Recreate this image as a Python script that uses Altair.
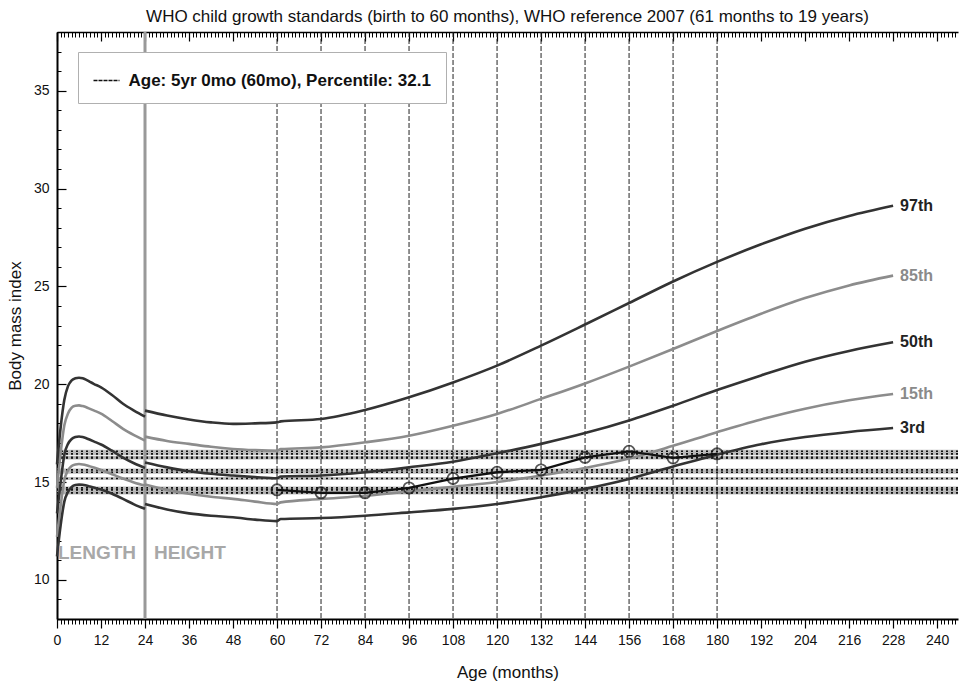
import altair as alt
import pandas as pd

FONT = "Liberation Sans"
TITLE = "WHO child growth standards (birth to 60 months), WHO reference 2007 (61 months to 19 years)"

# ---- WHO standards, length based (0-24 months) ----
months_len = [0, 1, 2, 3, 4, 5, 6, 7, 8, 9, 10, 12, 15, 18, 21, 24]
p97_len = [15.9, 17.8, 19.2, 19.9, 20.2, 20.3, 20.33, 20.3, 20.22, 20.12, 20.02, 19.84, 19.45, 19.0, 18.65, 18.34]
p85_len = [14.7, 16.5, 17.9, 18.5, 18.8, 18.9, 18.92, 18.88, 18.82, 18.74, 18.66, 18.5, 18.12, 17.72, 17.4, 17.12]
p50_len = [13.4, 15.0, 16.4, 16.95, 17.2, 17.3, 17.33, 17.3, 17.24, 17.16, 17.08, 16.92, 16.6, 16.25, 15.96, 15.72]
p15_len = [12.2, 13.8, 15.1, 15.6, 15.82, 15.9, 15.92, 15.9, 15.86, 15.8, 15.74, 15.62, 15.4, 15.18, 14.98, 14.82]
p3_len = [11.2, 12.8, 14.0, 14.5, 14.75, 14.85, 14.87, 14.86, 14.82, 14.77, 14.72, 14.62, 14.4, 14.14, 13.86, 13.63]

# ---- height based (24-60 months) + WHO reference 2007 (61-228 months) ----
months_ht = [24, 30, 36, 42, 48, 54, 60, 61, 72, 84, 96, 108, 120, 132, 144, 156, 168, 180, 192, 204, 216, 228]
p97_ht = [18.65, 18.4, 18.2, 18.05, 17.97, 18.0, 18.05, 18.1, 18.22, 18.68, 19.33, 20.09, 20.95, 21.97, 23.05, 24.15, 25.25, 26.25, 27.15, 27.95, 28.6, 29.12]
p85_ht = [17.32, 17.1, 16.95, 16.8, 16.69, 16.63, 16.6, 16.68, 16.77, 17.03, 17.37, 17.88, 18.48, 19.25, 20.04, 20.9, 21.8, 22.72, 23.6, 24.4, 25.05, 25.55]
p50_ht = [16.0, 15.75, 15.55, 15.42, 15.33, 15.25, 15.19, 15.28, 15.33, 15.5, 15.75, 16.04, 16.47, 16.95, 17.5, 18.15, 18.9, 19.7, 20.45, 21.15, 21.7, 22.14]
p15_ht = [14.87, 14.6, 14.4, 14.25, 14.14, 14.0, 13.88, 13.96, 14.13, 14.3, 14.52, 14.76, 15.0, 15.33, 15.72, 16.2, 16.85, 17.55, 18.2, 18.75, 19.18, 19.5]
p3_ht = [13.88, 13.6, 13.4, 13.28, 13.2, 13.08, 13.0, 13.11, 13.16, 13.28, 13.45, 13.63, 13.88, 14.22, 14.65, 15.16, 15.79, 16.4, 16.93, 17.3, 17.56, 17.76]

pct_names = ["97th", "85th", "50th", "15th", "3rd"]
pct_tone = ["dark", "gray", "dark", "gray", "dark"]
len_series = [p97_len, p85_len, p50_len, p15_len, p3_len]
ht_series = [p97_ht, p85_ht, p50_ht, p15_ht, p3_ht]

# ---- patient measurements ----
ages = [60, 72, 84, 96, 108, 120, 132, 144, 156, 168, 180]
bmi = [14.6, 14.45, 14.45, 14.7, 15.18, 15.5, 15.62, 16.26, 16.57, 16.23, 16.44]
legend_text = "Age: 5yr 0mo (60mo), Percentile: 32.1"

# tick values
x_major = list(range(0, 241, 12))
x_minor = list(range(0, 246))
y_major = [10, 15, 20, 25, 30, 35]
y_minor = list(range(8, 39))

rows = []
for name, tone, a, b in zip(pct_names, pct_tone, len_series, ht_series):
    for m, v in zip(months_len, a):
        rows.append(dict(pct=name, tone=tone, key=name + "_len", month=m, bmi=v))
    for m, v in zip(months_ht, b):
        rows.append(dict(pct=name, tone=tone, key=name + "_ht", month=m, bmi=v))
curves = pd.DataFrame(rows)
ends = pd.DataFrame([dict(pct=n, tone=t, month=months_ht[-1], bmi=s[-1])
                     for n, t, s in zip(pct_names, pct_tone, ht_series)])
pts = pd.DataFrame(dict(month=ages, bmi=bmi, legend=[legend_text] * len(ages)))
divider = pd.DataFrame(dict(month=[24], bmi=[11.35]))

xs = alt.Scale(domain=[0, 245.7], nice=False, zero=False)
ys = alt.Scale(domain=[8, 38], nice=False, zero=False)

common = dict(grid=False, title=None, tickColor="black", labelFont=FONT)

ax_bottom_major = alt.Axis(orient="bottom", values=x_major, tickSize=9, tickWidth=1.2, tickColor="black",
                           domain=True, domainColor="black", domainWidth=2, labelFontSize=14, labelFont=FONT,
                           labelColor="#111", labelPadding=5, labelFlush=False, labelOverlap=False,
                           title="Age (months)", titleFont=FONT, titleFontSize=17, titleFontWeight="normal",
                           titleColor="#111", titlePadding=17, grid=False)
ax_bottom_minor = alt.Axis(orient="bottom", values=x_minor, tickSize=5, tickWidth=1, labels=False, domain=False, **common)
ax_top_minor = alt.Axis(orient="top", values=x_minor, offset=-5, tickSize=5, tickWidth=1, labels=False, domain=False, **common)
ax_top_major = alt.Axis(orient="top", values=x_major, offset=-9, tickSize=9, tickWidth=1.2, labels=False, domain=False, **common)
ax_top_domain = alt.Axis(orient="top", ticks=False, labels=False, domain=True, domainColor="black", domainWidth=1.5, grid=False, title=None)

ax_left_labels = alt.Axis(orient="left", values=y_major, ticks=False, tickSize=0, domain=True, domainColor="black",
                          domainWidth=2, labelFontSize=14, labelFont=FONT, labelColor="#111", labelPadding=8,
                          labelFlush=False, labelOverlap=False, title="Body mass index", titleFont=FONT,
                          titleFontSize=17, titleFontWeight="normal", titleColor="#111", titlePadding=9, grid=False)
ax_left_minor = alt.Axis(orient="left", values=y_minor, offset=-4, tickSize=4, tickWidth=1, labels=False, domain=False, **common)
ax_left_major = alt.Axis(orient="left", values=y_major, offset=-9, tickSize=9, tickWidth=1.2, labels=False, domain=False, **common)

base_curves = alt.Chart(curves)

dark_curves = base_curves.transform_filter(alt.datum.tone == "dark").mark_line(
    interpolate="monotone", strokeWidth=2.6, color="#333333").encode(
    x=alt.X("month:Q", scale=xs, axis=ax_bottom_major),
    y=alt.Y("bmi:Q", scale=ys, axis=ax_left_labels),
    detail="key:N")

gray_curves = base_curves.transform_filter(alt.datum.tone == "gray").mark_line(
    interpolate="monotone", strokeWidth=2.6, color="#8c8c8c").encode(
    x=alt.X("month:Q", scale=xs, axis=ax_bottom_minor),
    y=alt.Y("bmi:Q", scale=ys, axis=ax_left_minor),
    detail="key:N")

hband = alt.Chart(pts).mark_rule(color="#a8a8a8", strokeWidth=3, opacity=0.75).encode(
    y=alt.Y("bmi:Q", scale=ys, axis=ax_left_major))
hdash = alt.Chart(pts).mark_rule(color="#111", strokeWidth=1.6, strokeDash=[2, 3]).encode(
    y=alt.Y("bmi:Q", scale=ys, axis=None))
vlines = alt.Chart(pts).mark_rule(color="#222", strokeWidth=1, strokeDash=[5, 2]).encode(
    x=alt.X("month:Q", scale=xs, axis=ax_top_minor))
div_line = alt.Chart(divider).mark_rule(color="#999999", strokeWidth=3).encode(
    x=alt.X("month:Q", scale=xs, axis=None))

patient_line = alt.Chart(pts).mark_line(strokeWidth=2.3).encode(
    x=alt.X("month:Q", scale=xs, axis=ax_top_major),
    y=alt.Y("bmi:Q", scale=ys, axis=None),
    color=alt.Color("legend:N", scale=alt.Scale(range=["#111111"]),
                    legend=alt.Legend(title=None, orient="none", legendX=21, legendY=20,
                                      symbolType="stroke", symbolSize=676, symbolStrokeWidth=1.5,
                                      symbolDash=[4, 1], labelFont=FONT, labelFontSize=17,
                                      labelFontWeight="bold", labelColor="#111", labelLimit=600,
                                      labelOffset=8, strokeColor="#b0b0b0", fillColor="white",
                                      padding=14.5)))
patient_pts = alt.Chart(pts).mark_point(shape="circle", size=125, filled=False, color="#111",
                                        strokeWidth=1.8).encode(
    x=alt.X("month:Q", scale=xs, axis=ax_top_domain),
    y=alt.Y("bmi:Q", scale=ys, axis=None))

dark_labels = alt.Chart(ends).transform_filter(alt.datum.tone == "dark").mark_text(
    align="left", baseline="middle", dx=7, font=FONT, fontSize=16, fontWeight="bold", color="#222").encode(
    x=alt.X("month:Q", scale=xs, axis=None), y=alt.Y("bmi:Q", scale=ys, axis=None), text="pct:N")
gray_labels = alt.Chart(ends).transform_filter(alt.datum.tone == "gray").mark_text(
    align="left", baseline="middle", dx=7, font=FONT, fontSize=16, fontWeight="bold", color="#8a8a8a").encode(
    x=alt.X("month:Q", scale=xs, axis=None), y=alt.Y("bmi:Q", scale=ys, axis=None), text="pct:N")

len_text = alt.Chart(divider).mark_text(align="right", baseline="middle", dx=-9, font=FONT, fontSize=19,
                                        fontWeight="bold", color="#a8a8a8", text="LENGTH").encode(
    x=alt.X("month:Q", scale=xs, axis=None), y=alt.Y("bmi:Q", scale=ys, axis=None))
ht_text = alt.Chart(divider).mark_text(align="left", baseline="middle", dx=9, font=FONT, fontSize=19,
                                       fontWeight="bold", color="#a8a8a8", text="HEIGHT").encode(
    x=alt.X("month:Q", scale=xs, axis=None), y=alt.Y("bmi:Q", scale=ys, axis=None))

chart = alt.layer(
    hband, hdash, vlines, div_line, gray_curves, dark_curves, patient_line, patient_pts,
    dark_labels, gray_labels, len_text, ht_text
).resolve_axis(x="independent", y="independent").properties(
    width=901, height=587,
    autosize=alt.AutoSizeParams(type="none"),
    padding={"left": 57, "top": 32, "right": 2, "bottom": 66},
    title=alt.Title(TITLE, font=FONT, fontSize=17, fontWeight="normal", color="#111", anchor="middle", offset=5),
    background="white",
).configure_view(strokeWidth=0)

chart.save("out.html", embed_options={"renderer": "svg", "actions": False})
